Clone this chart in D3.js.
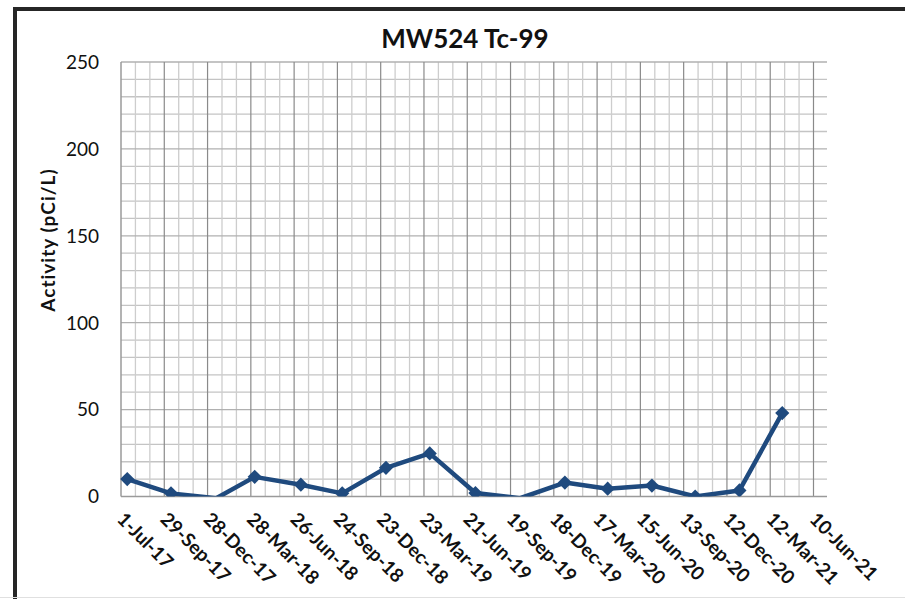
<!DOCTYPE html>
<html>
<head>
<meta charset="utf-8">
<script src="https://cdn.jsdelivr.net/npm/d3@7"></script>
<style>
  html, body { margin: 0; padding: 0; background: #fff; }
  svg { display: block; }
  text { font-family: Lato, "Open Sans", "Liberation Sans", sans-serif; }
</style>
</head>
<body>
<svg id="chart" width="905" height="599"></svg>
<script>
const title = "MW524 Tc-99";
const yTitle = "Activity (pCi/L)";
const sampleDates = ["2017-07-14","2017-10-13","2018-01-15","2018-04-05","2018-07-10","2018-10-04",
  "2019-01-03","2019-04-04","2019-07-08","2019-10-09","2020-01-10","2020-04-08","2020-07-09",
  "2020-10-07","2021-01-07","2021-04-06"];
const activity = [10, 1.8, -1, 11.3, 6.8, 1.8, 16.5, 24.8, 2, -1, 8, 4.5, 6.3, 0, 3.5, 48];
const xTickLabels = ["1-Jul-17","29-Sep-17","28-Dec-17","28-Mar-18","26-Jun-18","24-Sep-18",
  "23-Dec-18","23-Mar-19","21-Jun-19","19-Sep-19","18-Dec-19","17-Mar-20","15-Jun-20",
  "13-Sep-20","12-Dec-20","12-Mar-21","10-Jun-21"];
const yTicks = [0, 50, 100, 150, 200, 250];
const yMinor = d3.range(0, 251, 10);

(function () {
const parse = d3.utcParse("%Y-%m-%d");
const data = sampleDates.map((d, i) => ({ date: parse(d), value: activity[i] }));

const svg = d3.select("#chart");
const pL = 121, pR = 827, pT = 62, pB = 496.5;
const startDate = parse("2017-07-01");
const lastMajor = d3.utcDay.offset(startDate, 90 * (xTickLabels.length - 1));

const x = d3.scaleUtc().domain([startDate, lastMajor]).range([pL, 813.5]);
const y = d3.scaleLinear().domain([0, 250]).range([pB, pT]);

// outer frame
svg.append("rect").attr("x", 15).attr("y", 9).attr("width", 1000).attr("height", 1000)
  .attr("fill", "#fff").attr("stroke", "#262626").attr("stroke-width", 4);
svg.append("line").attr("x1", 0).attr("x2", 905).attr("y1", 597.5).attr("y2", 597.5)
  .attr("stroke", "#e0e0e0").attr("stroke-width", 1);

// gridlines
const grid = svg.append("g");
const nDays = 90 * (xTickLabels.length - 1);
const minorDays = d3.range(30, nDays + 1, 30).filter(d => d % 90 !== 0);
const majorDays = d3.range(90, nDays + 1, 90);
grid.selectAll(".hminor").data(yMinor.filter(v => v % 50 !== 0)).join("line")
  .attr("x1", pL).attr("x2", pR).attr("y1", d => y(d)).attr("y2", d => y(d))
  .attr("stroke", "#c4c4c4").attr("stroke-width", 1.3);
grid.selectAll(".vminor").data(minorDays).join("line")
  .attr("x1", d => x(d3.utcDay.offset(startDate, d))).attr("x2", d => x(d3.utcDay.offset(startDate, d)))
  .attr("y1", pT).attr("y2", pB).attr("stroke", "#cdcdcd").attr("stroke-width", 1.3);
grid.selectAll(".hmajor").data(yTicks.filter(v => v > 0)).join("line")
  .attr("x1", pL).attr("x2", pR).attr("y1", d => y(d)).attr("y2", d => y(d))
  .attr("stroke", "#b0b0b0").attr("stroke-width", 1.3);
grid.selectAll(".vmajor").data(majorDays).join("line")
  .attr("x1", d => x(d3.utcDay.offset(startDate, d))).attr("x2", d => x(d3.utcDay.offset(startDate, d)))
  .attr("y1", pT).attr("y2", pB).attr("stroke", "#8a8a8a").attr("stroke-width", 1.2);
// axes lines
svg.append("line").attr("x1", pL).attr("x2", pL).attr("y1", pT).attr("y2", pB)
  .attr("stroke", "#9a9a9a").attr("stroke-width", 1.5);
svg.append("line").attr("x1", pL).attr("x2", pR).attr("y1", pB).attr("y2", pB)
  .attr("stroke", "#9a9a9a").attr("stroke-width", 1.5);

// y tick labels
svg.append("g").selectAll("text").data(yTicks).join("text")
  .attr("x", 99).attr("y", d => y(d)).attr("dy", "0.36em")
  .attr("text-anchor", "end").attr("font-size", 19).attr("fill", "#111")
  .text(d => d);

// x tick labels
const xTickDates = xTickLabels.map((_, i) => d3.utcDay.offset(startDate, 90 * i));
svg.append("g").selectAll("text").data(xTickLabels).join("text")
  .attr("transform", (d, i) => `translate(${x(xTickDates[i]) - 5},${pB + 24}) rotate(45)`)
  .attr("text-anchor", "start").attr("font-size", 19).attr("font-weight", "bold").attr("fill", "#111")
  .text(d => d);

// title
svg.append("text").attr("x", 465).attr("y", 48).attr("text-anchor", "middle")
  .attr("font-size", 26).attr("font-weight", "bold").attr("fill", "#111").text(title);
// y title
svg.append("text").attr("transform", `translate(55,240) rotate(-90)`)
  .attr("text-anchor", "middle").attr("font-size", 19).attr("font-weight", "bold")
  .attr("letter-spacing", 1).attr("fill", "#111")
  .text(yTitle);

// clip
svg.append("clipPath").attr("id", "plotclip").append("rect")
  .attr("x", pL - 10).attr("y", pT - 10).attr("width", pR - pL + 20).attr("height", pB - pT + 10);

const line = d3.line().x(d => x(d.date)).y(d => y(d.value));
const plot = svg.append("g").attr("clip-path", "url(#plotclip)");
plot.append("path").datum(data).attr("d", line)
  .attr("fill", "none").attr("stroke", "#1f4a7e").attr("stroke-width", 4.5).attr("stroke-linejoin", "round");
const diamond = d3.symbol().type(d3.symbolDiamond2).size(128);
plot.selectAll(".pt").data(data.filter(d => d.value >= 0)).join("path")
  .attr("transform", d => `translate(${x(d.date)},${y(d.value)})`)
  .attr("d", diamond).attr("fill", "#1f4a7e");
})();
</script>
</body>
</html>
